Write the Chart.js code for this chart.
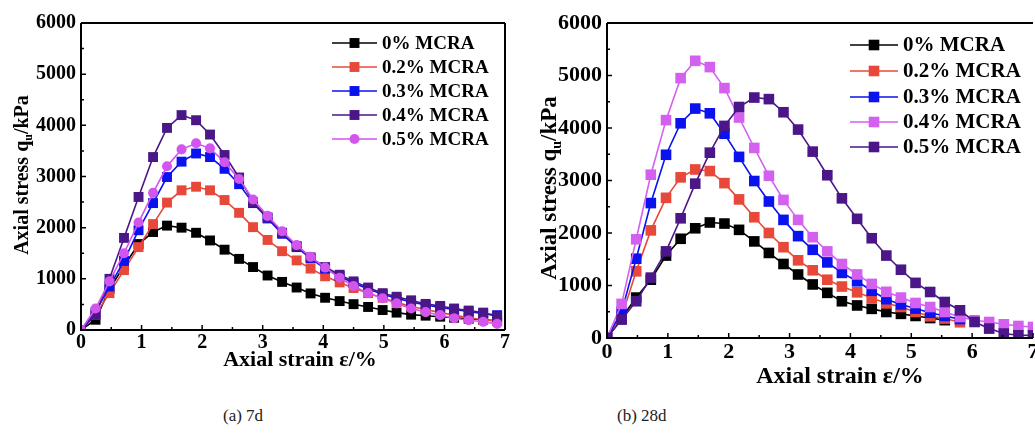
<!DOCTYPE html>
<html>
<head>
<meta charset="utf-8">
<script src="https://cdn.jsdelivr.net/npm/chart.js@4/dist/chart.umd.min.js"></script>
<style>
  html, body { margin: 0; padding: 0; background: #fff; }
  body { width: 1035px; height: 435px; position: relative; overflow: hidden; font-family: 'Liberation Serif', serif; }
  canvas { position: absolute; top: 0; }
  #chartA { left: 0; }
  #chartB { left: 520px; }
  .cap { position: absolute; top: 406px; font-size: 17px; color: #222; }
</style>
</head>
<body>
<canvas id="chartA" width="520" height="390"></canvas>
<canvas id="chartB" width="540" height="400"></canvas>
<div class="cap" style="left:223px">(a) 7d</div>
<div class="cap" style="left:617px">(b) 28d</div>

<script>
// ---------- data ----------
const seriesNames = ['0% MCRA', '0.2% MCRA', '0.3% MCRA', '0.4% MCRA', '0.5% MCRA'];
const xTicks = [0, 1, 2, 3, 4, 5, 6, 7];
const yTicks = [0, 1000, 2000, 3000, 4000, 5000, 6000];

// (a) 7d
const strain7 = [0, 0.24, 0.47, 0.71, 0.95, 1.19, 1.42, 1.66, 1.9, 2.13, 2.37, 2.61, 2.84, 3.08, 3.32,
  3.56, 3.79, 4.03, 4.27, 4.5, 4.74, 4.98, 5.21, 5.45, 5.69, 5.93, 6.16, 6.4, 6.64, 6.87];
const d7_0  = [0, 200, 800, 1250, 1680, 1915, 2040, 2000, 1900, 1750, 1570, 1390, 1230, 1065, 940,
  830, 715, 630, 565, 505, 450, 390, 340, 300, 280, 260, 240, 220, 200, 180];
const d7_02 = [0, 300, 720, 1170, 1620, 2070, 2490, 2730, 2800, 2730, 2540, 2290, 2010, 1760, 1540,
  1360, 1200, 1050, 930, 820, 720, 630, 540, 460, 400, 340, 290, 240, 200, 170];
const d7_03 = [0, 350, 850, 1350, 1950, 2480, 2990, 3290, 3450, 3380, 3150, 2850, 2480, 2180, 1880,
  1620, 1400, 1200, 1050, 920, 800, 700, 620, 550, 490, 440, 400, 360, 320, 290];
const d7_04 = [0, 300, 1000, 1800, 2600, 3380, 3950, 4200, 4100, 3820, 3420, 2980, 2500, 2200, 1900,
  1640, 1420, 1230, 1080, 950, 830, 720, 650, 580, 510, 470, 420, 380, 340, 260];
const d7_05 = [0, 420, 950, 1500, 2100, 2680, 3200, 3530, 3650, 3550, 3280, 2950, 2550, 2230, 1930,
  1660, 1430, 1220, 1020, 860, 720, 620, 520, 420, 350, 290, 230, 190, 160, 120];

// (b) 28d
const strain28 = [0, 0.24, 0.48, 0.72, 0.97, 1.21, 1.45, 1.69, 1.93, 2.17, 2.42, 2.66, 2.9, 3.14, 3.38,
  3.62, 3.86, 4.11, 4.35, 4.59, 4.83, 5.07, 5.31, 5.55, 5.8, 6.04, 6.28, 6.52, 6.76, 7.0];
const d28_0  = [0, 380, 770, 1110, 1570, 1890, 2090, 2200, 2180, 2060, 1840, 1620, 1410, 1210, 1020,
  860, 700, 620, 555, 495, 460, 420, 380, 340];
const d28_02 = [0, 400, 1270, 2050, 2670, 3060, 3210, 3180, 2950, 2640, 2300, 2000, 1730, 1480, 1290,
  1110, 980, 870, 760, 660, 590, 495, 413, 370, 300];
const d28_03 = [0, 500, 1510, 2570, 3490, 4090, 4370, 4280, 3890, 3450, 2990, 2600, 2250, 1940, 1680,
  1440, 1240, 1080, 900, 740, 640, 560, 480, 420, 360];
const d28_04 = [0, 650, 1880, 3110, 4150, 4950, 5280, 5160, 4760, 4200, 3620, 3090, 2630, 2250, 1920,
  1650, 1410, 1210, 1030, 880, 770, 667, 590, 495, 400, 337, 305, 261, 229, 210];
const d28_05 = [0, 350, 700, 1150, 1650, 2280, 2940, 3530, 4040, 4400, 4580, 4550, 4300, 3970, 3550,
  3100, 2660, 2270, 1900, 1570, 1300, 1050, 876, 686, 528, 305, 179, 84, 51, 50];

// ---------- styles ----------
const FONT = '"Liberation Serif", "Times New Roman", serif';
const C = {
  black: '#000000', red: '#e8483a', blue: '#0a12ee',
  violet: '#4a1688', pink: '#d255ee', pink2: '#d460f0'
};

function pts(xs, ys) { return ys.map((v, i) => ({ x: xs[i], y: v })); }

function makeSets(xs, list, styles, r) {
  return list.map((ys, i) => ({
    label: seriesNames[i],
    data: pts(xs, ys),
    showLine: true,
    borderColor: styles[i].c,
    backgroundColor: styles[i].c,
    borderWidth: 1.6,
    pointStyle: styles[i].ps,
    pointRadius: styles[i].ps === 'circle' ? r * 0.72 : r,
    pointBorderWidth: 0,
    pointBackgroundColor: styles[i].c,
    order: list.length - i,
    tension: 0
  }));
}

// y title with subscript u
function drawYTitle(ctx, cx, cy, size) {
  const big = `bold ${size}px ${FONT}`, small = `bold ${Math.round(size * 0.62)}px ${FONT}`;
  const a = 'Axial stress q', s = 'u', b = '/kPa';
  ctx.save();
  ctx.font = big; const wa = ctx.measureText(a).width, wb = ctx.measureText(b).width;
  ctx.font = small; const ws = ctx.measureText(s).width;
  const total = wa + ws + wb;
  ctx.translate(cx, cy);
  ctx.rotate(-Math.PI / 2);
  ctx.fillStyle = '#000';
  ctx.textBaseline = 'middle';
  ctx.textAlign = 'left';
  let x = -total / 2;
  ctx.font = big; ctx.fillText(a, x, 0); x += wa;
  ctx.font = small; ctx.fillText(s, x, size * 0.3); x += ws;
  ctx.font = big; ctx.fillText(b, x, 0);
  ctx.restore();
}

// frame, inward ticks, titles, legend
const decor = {
  id: 'decor',
  afterDraw(chart) {
    const cfg = chart.options.plugins.decor;
    const ctx = chart.ctx, a = chart.chartArea;
    const xs = chart.scales.x, ys = chart.scales.y;
    ctx.save();
    ctx.strokeStyle = '#000';
    ctx.lineWidth = 2;
    ctx.beginPath();
    ctx.moveTo(a.left, a.top); ctx.lineTo(a.left, a.bottom); ctx.lineTo(a.right, a.bottom);
    ctx.moveTo(a.left, a.top); ctx.lineTo(a.right, a.top);
    if (cfg.rightLine) { ctx.moveTo(a.right, a.top); ctx.lineTo(a.right, a.bottom); }
    ctx.stroke();
    ctx.lineWidth = 1.5;
    ctx.beginPath();
    for (let v = 0; v <= 6000; v += 500) {
      const y = ys.getPixelForValue(v), len = v % 1000 === 0 ? 5 : 3;
      ctx.moveTo(a.left, y); ctx.lineTo(a.left + len, y);
    }
    for (let v = 0; v <= 7; v += 0.5) {
      const x = xs.getPixelForValue(v), len = v % 1 === 0 ? 5 : 3;
      ctx.moveTo(x, a.bottom); ctx.lineTo(x, a.bottom - len);
    }
    ctx.stroke();

    // axis titles
    ctx.fillStyle = '#000';
    ctx.font = `bold ${cfg.xTitle.size}px ${FONT}`;
    ctx.textAlign = 'center';
    ctx.textBaseline = 'middle';
    ctx.fillText('Axial strain \u03b5/%', cfg.xTitle.x, cfg.xTitle.y);
    drawYTitle(ctx, cfg.yTitle.x, cfg.yTitle.y, cfg.yTitle.size);

    // legend
    const L = cfg.legend;
    chart.data.datasets.forEach((ds, i) => {
      const y = L.rows[i];
      ctx.strokeStyle = ds.borderColor;
      ctx.lineWidth = 1.6;
      ctx.beginPath(); ctx.moveTo(L.x0, y); ctx.lineTo(L.x1, y); ctx.stroke();
      ctx.fillStyle = ds.borderColor;
      Chart.helpers.drawPoint(ctx, { pointStyle: ds.pointStyle, radius: ds.pointRadius, rotation: 0, borderWidth: 0 },
        (L.x0 + L.x1) / 2, y);
      ctx.fillStyle = '#000';
      ctx.font = `bold ${L.size}px ${FONT}`;
      ctx.textAlign = 'left';
      ctx.textBaseline = 'middle';
      ctx.fillText(ds.label, L.tx, y + 1);
    });
    ctx.restore();
  }
};

function makeChart(id, sets, p) {
  return new Chart(document.getElementById(id), {
    type: 'scatter',
    data: { datasets: sets },
    options: {
      responsive: false,
      animation: false,
      layout: { padding: { left: 0, top: p.area.top, right: p.w - p.area.right, bottom: 0 } },
      plugins: { legend: { display: false }, tooltip: { enabled: false }, decor: p },
      scales: {
        x: {
          type: 'linear', min: 0, max: 7,
          afterBuildTicks: s => { s.ticks = xTicks.map(v => ({ value: v })); },
          afterFit: s => { s.height = p.h - p.area.bottom; },
          grid: { display: false, drawTicks: false },
          border: { display: false },
          ticks: { color: '#000', padding: p.xPad, maxRotation: 0, callback: v => String(v),
            font: { family: FONT, size: p.tick, weight: 'bold' } }
        },
        y: {
          type: 'linear', min: 0, max: 6000,
          afterBuildTicks: s => { s.ticks = yTicks.map(v => ({ value: v })); },
          afterFit: s => { s.width = p.area.left; },
          grid: { display: false, drawTicks: false },
          border: { display: false },
          ticks: { color: '#000', padding: 5, callback: v => String(v),
            font: { family: FONT, size: p.tick, weight: 'bold' } }
        }
      }
    },
    plugins: [decor]
  });
}

const styleA = [
  { c: C.black, ps: 'rect' }, { c: C.red, ps: 'rect' }, { c: C.blue, ps: 'rect' },
  { c: C.violet, ps: 'rect' }, { c: C.pink, ps: 'circle' }
];
const styleB = [
  { c: C.black, ps: 'rect' }, { c: C.red, ps: 'rect' }, { c: C.blue, ps: 'rect' },
  { c: C.pink2, ps: 'rect' }, { c: C.violet, ps: 'rect' }
];

makeChart('chartA', makeSets(strain7, [d7_0, d7_02, d7_03, d7_04, d7_05], styleA, 7), {
  w: 520, h: 390, area: { left: 81, top: 23, right: 505, bottom: 330 },
  tick: 20, xPad: 1, rightLine: true,
  xTitle: { x: 300, y: 360, size: 22 },
  yTitle: { x: 23, y: 175, size: 20 },
  legend: { x0: 332, x1: 377, tx: 382, rows: [43, 67, 91, 115, 139], size: 19 }
});

makeChart('chartB', makeSets(strain28, [d28_0, d28_02, d28_03, d28_04, d28_05], styleB, 7.5), {
  w: 540, h: 400, area: { left: 87, top: 23, right: 513, bottom: 338 },
  tick: 22, xPad: 1, rightLine: false,
  xTitle: { x: 320, y: 377, size: 24 },
  yTitle: { x: 30, y: 188, size: 23 },
  legend: { x0: 330, x1: 378, tx: 383, rows: [45, 71, 97, 122, 147], size: 21 }
});
</script>
</body>
</html>
